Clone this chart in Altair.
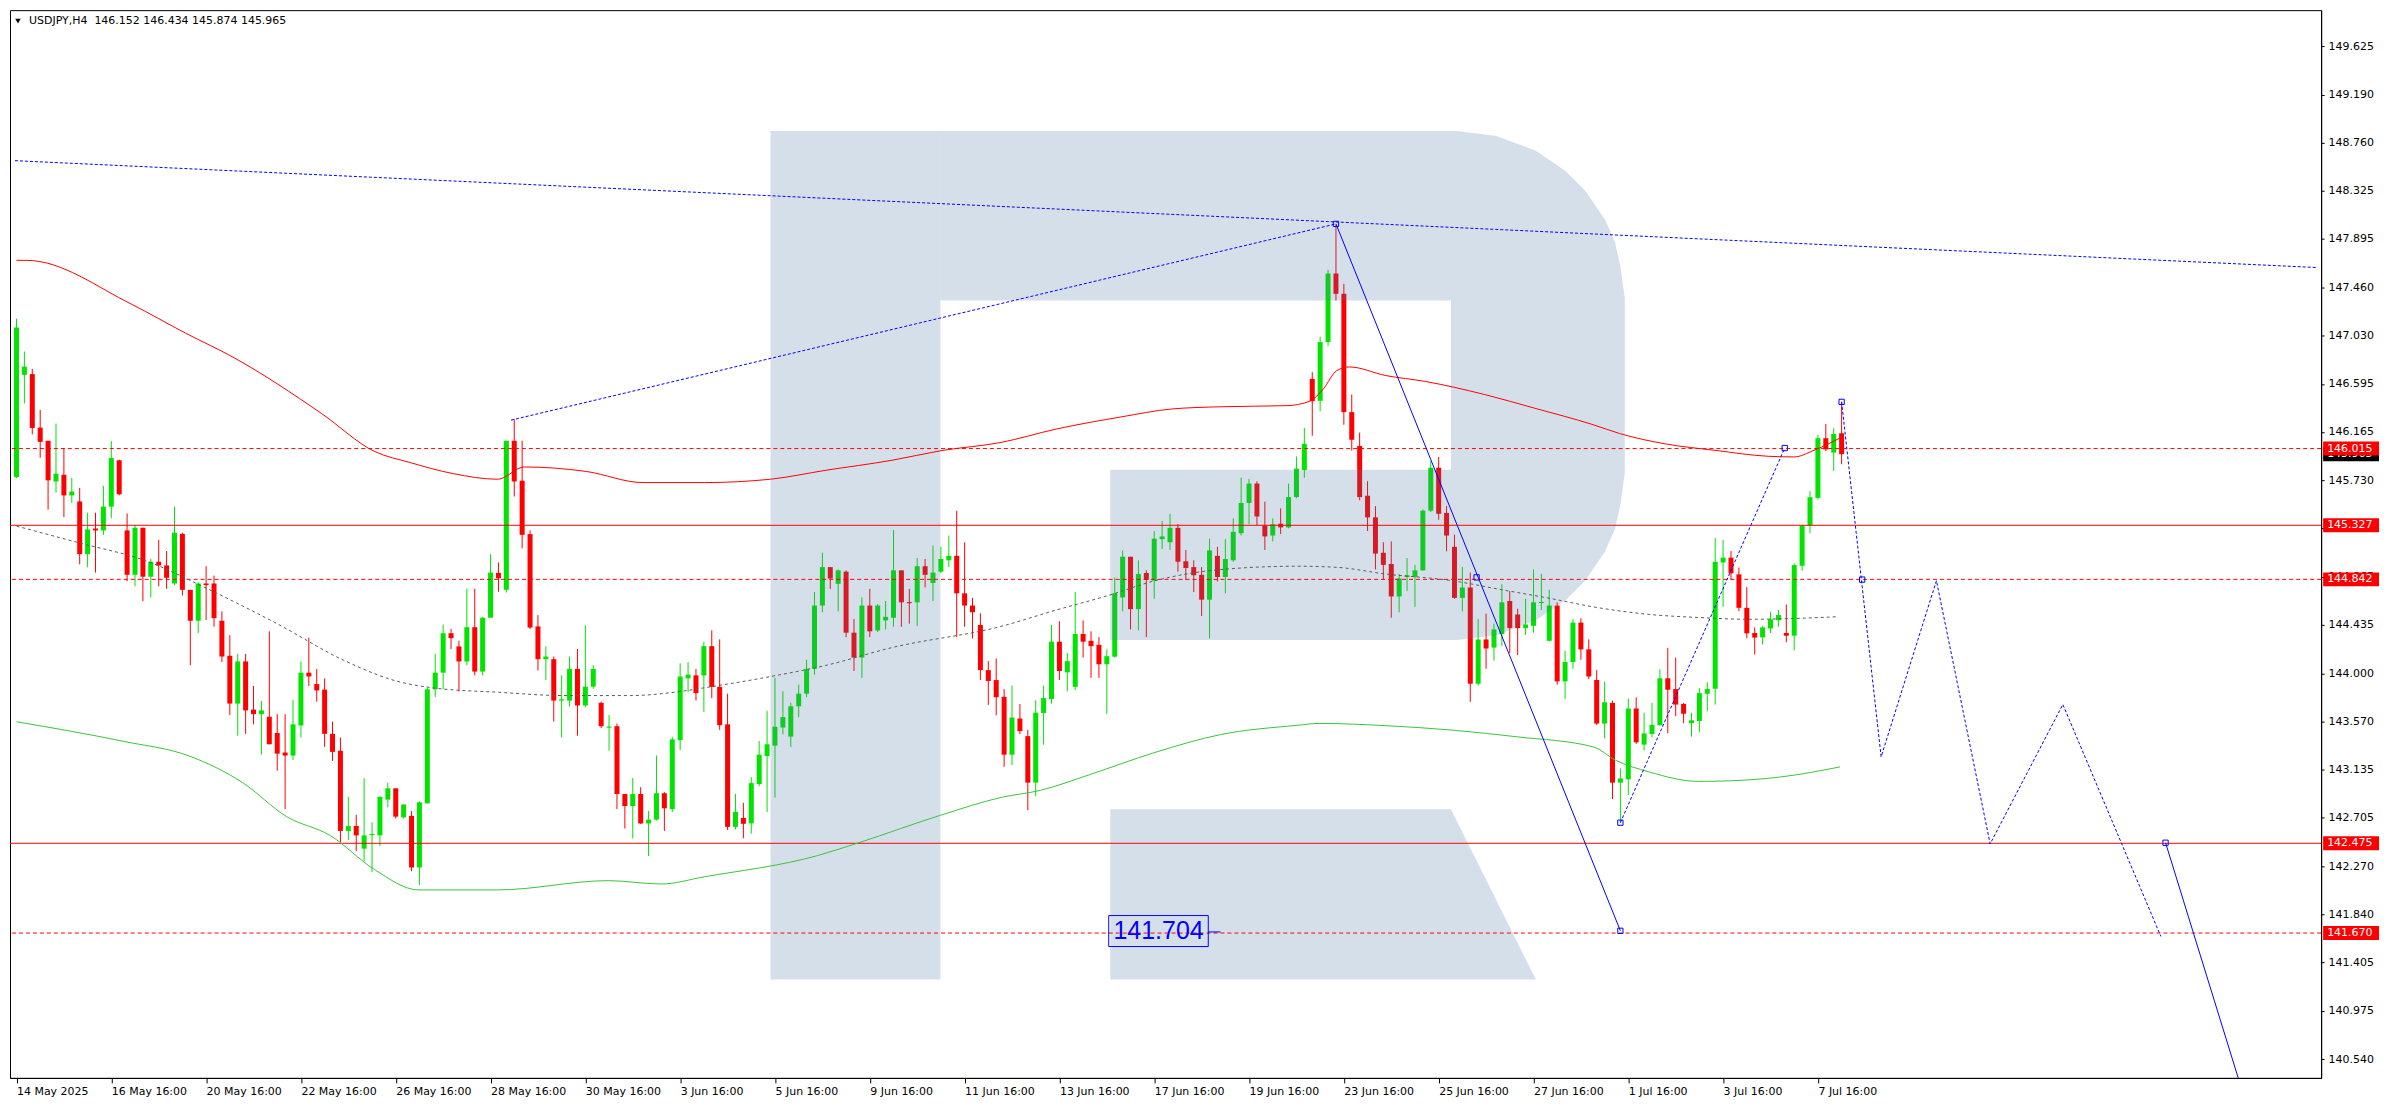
import altair as alt
import pandas as pd

# ---------------- data ----------------
opens = [145.76,146.676,146.683,146.203,146.085,145.72,145.78,145.595,145.541,145.068,
145.298,145.281,145.494,145.91,145.281,144.883,145.305,144.866,145.0,144.967,
144.805,145.25,144.748,144.471,144.805,144.805,144.471,144.157,143.728,144.106,
143.674,143.633,143.61,143.464,143.289,143.262,143.532,144.005,143.903,143.853,
143.457,143.305,142.586,142.63,142.427,142.548,142.546,142.867,142.968,142.708,
142.721,142.258,142.833,143.856,144.005,144.359,144.241,144.106,144.413,144.015,
144.498,144.9,144.748,146.085,145.727,145.248,144.42,144.126,144.126,143.755,
143.755,144.039,143.711,143.88,143.735,143.512,143.525,142.917,142.809,142.917,
142.653,142.687,142.924,142.782,143.4,143.954,143.981,143.98,144.243,143.878,
143.542,142.622,142.703,142.654,143.007,143.258,143.351,143.513,143.432,143.704,
143.817,144.04,144.607,144.952,144.802,144.911,144.364,144.141,144.607,144.384,
144.474,144.498,144.923,144.636,144.636,144.96,144.81,144.911,145.013,145.053,
144.717,144.607,144.433,144.028,143.939,143.789,143.27,143.594,143.436,143.019,
143.643,143.769,144.283,144.008,143.878,144.352,144.291,144.255,144.081,144.149,
144.68,145.045,144.575,144.899,144.83,145.203,145.175,145.304,145.004,144.952,
144.883,144.66,145.053,144.863,145.013,145.256,145.527,145.701,145.325,145.235,
145.341,145.308,145.58,145.823,146.64,146.443,146.97,147.585,147.403,146.342,
146.038,145.592,145.398,145.081,144.98,144.689,144.863,144.863,144.923,145.458,
145.843,145.438,145.134,144.676,144.769,143.906,144.303,144.23,144.352,144.648,
144.527,144.405,144.425,144.63,144.291,144.607,143.927,144.101,144.454,144.214,
143.94,143.549,143.734,143.019,143.049,143.684,143.36,143.455,143.534,143.955,
143.858,143.725,143.552,143.572,143.816,143.861,144.993,145.037,144.887,144.587,
144.361,144.322,144.402,144.475,144.361,144.337,144.964,145.323,145.573,146.108,
145.979,146.152]

highs = [147.18,146.886,146.73,146.362,146.085,146.24,146.02,145.754,145.663,145.44,
145.44,145.68,146.082,145.916,145.433,145.332,145.305,145.028,145.197,145.096,
145.494,145.261,144.748,144.815,144.96,144.876,144.555,144.342,144.174,144.174,
143.886,143.751,144.376,143.633,143.633,143.761,144.106,144.319,144.038,143.954,
143.566,143.424,142.89,142.73,143.059,142.664,142.90,143.018,142.968,142.823,
142.765,142.85,143.87,144.174,144.437,144.397,144.292,144.758,144.758,144.505,
145.068,144.994,146.085,146.278,146.085,145.281,144.522,144.241,144.15,143.981,
144.15,144.217,144.43,144.072,143.745,143.626,143.549,142.917,143.059,142.978,
142.765,143.262,142.934,143.43,144.089,144.1,144.038,144.283,144.385,144.304,
143.817,142.918,142.837,143.068,143.392,143.663,143.959,143.838,143.736,143.898,
144.121,144.729,145.081,144.952,144.931,144.923,144.486,144.68,144.757,144.62,
144.648,145.284,144.923,144.757,145.033,145.025,145.146,145.134,145.235,145.458,
145.175,144.676,144.538,144.109,144.133,143.858,143.89,143.724,143.493,143.757,
143.89,144.433,144.466,144.182,144.729,144.474,144.376,144.324,144.214,144.859,
145.102,145.045,145.013,144.923,145.276,145.365,145.43,145.337,145.106,145.013,
144.952,145.207,145.134,145.203,145.389,145.754,145.742,145.722,145.539,145.389,
145.478,145.701,145.944,146.20,146.70,147.018,147.618,148.023,147.492,146.5,
146.159,145.722,145.499,145.175,145.183,144.891,145.033,144.972,145.47,145.904,
145.94,145.499,145.243,144.952,144.903,144.486,144.534,144.445,144.798,144.737,
144.579,144.668,144.931,144.891,144.749,144.636,144.202,144.486,144.494,144.304,
144.028,143.925,143.755,143.146,143.772,143.784,143.646,143.734,144.034,144.228,
144.14,143.734,143.646,143.866,143.919,145.214,145.196,145.096,144.949,144.773,
144.411,144.425,144.552,144.567,144.617,144.984,145.332,145.632,146.138,146.235,
146.197,146.434]

lows = [145.75,146.42,146.143,145.933,145.467,145.62,145.40,145.528,144.977,144.95,
144.903,145.241,145.39,145.595,144.825,144.78,144.646,144.68,144.78,144.758,
144.79,144.697,144.072,144.36,144.477,144.417,144.10,143.626,143.44,143.457,
143.542,143.272,143.363,143.127,142.782,143.221,143.424,143.886,143.745,143.34,
143.214,142.485,142.505,142.404,142.31,142.215,142.451,142.799,142.697,142.697,
142.225,142.10,142.833,143.788,143.856,144.217,143.836,144.072,143.981,143.981,
144.498,144.731,144.724,145.585,145.12,144.396,144.025,143.937,143.566,143.424,
143.701,143.44,143.694,143.86,143.508,143.306,142.782,142.607,142.519,142.647,
142.36,142.68,142.586,142.755,143.312,143.83,143.755,143.655,143.777,143.493,
142.594,142.60,142.52,142.561,142.987,142.756,142.885,143.453,143.339,143.607,
143.785,143.987,144.547,144.757,144.555,144.324,144.02,143.959,144.324,144.37,
144.393,144.417,144.417,144.445,144.425,144.77,144.648,144.90,144.952,144.324,
144.417,144.312,143.939,143.716,143.623,143.161,143.177,143.453,142.772,142.898,
143.359,143.728,143.939,143.838,143.85,144.141,143.959,143.959,143.635,144.14,
144.555,144.393,144.385,144.324,144.668,145.114,145.106,144.911,144.838,144.729,
144.514,144.312,144.822,144.717,145.0,145.235,145.337,145.325,145.106,145.183,
145.248,145.30,145.57,145.754,146.13,146.35,146.937,147.342,146.228,145.997,
145.552,145.276,144.931,144.838,144.498,144.547,144.737,144.595,144.92,145.446,
145.377,145.094,144.668,144.555,143.744,143.89,144.04,144.113,144.243,144.182,
144.162,144.344,144.364,144.567,144.285,143.898,143.769,144.04,144.121,143.947,
143.537,143.416,142.872,142.66,142.91,143.366,143.307,143.425,143.53,143.463,
143.616,143.552,143.431,143.475,143.66,143.719,144.596,144.837,144.558,144.314,
144.169,144.258,144.361,144.417,144.278,144.205,144.92,145.255,145.558,145.993,
145.814,145.874]

closes = [147.10,146.75,146.20,146.075,145.73,145.79,145.595,145.63,145.068,145.29,
145.281,145.494,145.93,145.605,144.883,145.305,144.866,145.0,144.967,144.856,
145.261,144.748,144.471,144.805,144.79,144.494,144.15,143.728,144.106,143.667,
143.633,143.667,143.363,143.279,143.262,143.542,144.005,143.971,143.846,143.457,
143.295,142.586,142.63,142.546,142.546,142.556,142.89,142.968,142.714,142.823,
142.258,142.843,143.856,144.005,144.359,144.315,144.106,144.413,144.015,144.498,
144.903,144.852,146.085,145.72,145.241,144.41,144.126,144.15,143.755,143.767,
144.039,143.711,143.88,144.039,143.525,143.518,142.917,142.809,142.917,142.653,
142.687,142.924,142.789,143.407,143.971,143.988,143.822,144.243,143.878,143.534,
142.622,142.756,142.65,143.015,143.27,143.363,143.52,143.607,143.704,143.817,
144.04,144.607,144.952,144.85,144.923,144.364,144.141,144.607,144.376,144.607,
144.506,144.923,144.636,144.628,144.96,144.883,144.903,145.025,145.053,144.717,
144.607,144.547,144.028,143.931,143.785,143.27,143.603,143.481,143.019,143.647,
143.777,144.283,144.02,144.109,144.352,144.283,144.243,144.081,144.153,144.717,
145.045,144.575,144.891,144.838,145.207,145.227,145.304,145.0,144.944,144.879,
144.66,145.102,144.863,145.025,145.268,145.527,145.701,145.406,145.227,145.337,
145.308,145.58,145.835,146.058,146.44,146.97,147.585,147.403,146.342,146.094,
145.58,145.398,145.073,144.972,144.689,144.85,144.879,144.923,145.458,145.843,
145.43,145.235,144.676,144.769,143.906,144.303,144.222,144.393,144.636,144.405,
144.405,144.437,144.636,144.636,144.607,143.927,144.101,144.454,144.214,143.971,
143.549,143.74,143.019,143.057,143.684,143.381,143.46,143.537,143.955,143.852,
143.719,143.637,143.578,143.822,143.858,144.999,145.037,144.896,144.587,144.358,
144.32,144.411,144.484,144.522,144.337,144.97,145.323,145.579,146.108,146.008,
146.146,145.965]

# band lines (bar index, price)
upper_x = [0,1.3,14.6,21.4,27.4,38.6,45.3,49.8,55.3,60.9,64.3,72.1,79.3,87.1,95.4,102.4,110.8,117.1,124.6,131.6,
           139.9,146.2,152.4,160.8,163.7,165.4,167.1,168.7,173.3,178.3,185.8,192.1,199.6,202.9,208.7,215,221.7,225,227.5,231.2]
upper_y = [147.703,147.703,147.308,147.05,146.835,146.33,145.99,145.89,145.79,145.74,145.85,145.81,145.71,145.71,145.74,145.82,145.91,145.997,146.07,146.19,
           146.30,146.37,146.39,146.40,146.44,146.55,146.714,146.747,146.67,146.617,146.50,146.378,146.228,146.15,146.057,145.999,145.946,145.94,145.999,146.125]
mid_x = [0,7.9,16.3,24.7,33.1,41.4,48.1,52.6,60.9,69.3,77.7,83.3,87.1,95.4,102.4,110.8,124.6,131.6,138.3,144.1,
         152.4,162.1,167.1,173.3,181.7,187.9,194.2,199.6,206.6,212.9,219.2,230.6]
mid_y = [145.32,145.17,145.01,144.74,144.44,144.117,143.93,143.87,143.83,143.80,143.80,143.83,143.87,143.97,144.07,144.23,144.42,144.567,144.70,144.83,
         144.93,144.96,144.95,144.89,144.83,144.75,144.67,144.595,144.528,144.50,144.484,144.507]
lower_x = [0,13.5,21.9,28.6,34.2,39.7,45.3,50.9,60.9,74.9,81.6,87.1,101.4,106.6,117.1,124.6,129.6,135.8,144.1,152.4,
           162.1,164.9,173.3,181.7,189.9,199.6,202.4,206.6,212.9,217.1,223.3,230.8]
lower_y = [143.565,143.39,143.257,143.02,142.714,142.545,142.24,142.057,142.057,142.14,142.11,142.175,142.365,142.48,142.73,142.886,142.95,143.09,143.29,143.45,
           143.533,143.55,143.53,143.49,143.43,143.339,143.22,143.116,143.03,143.036,143.07,143.16]

solid_levels = [145.327, 142.475]
dashed_levels = [146.015, 144.842, 141.670]

# blue analysis lines: (segment, bar index, price)
dotted_seg = ["top", "top", "spike", "spike", "rise", "rise", "zig", "zig", "zig", "zig", "zig", "zig"]
dotted_x = [-0.19, 291.06, 62.6, 167, 203, 223.8, 231, 236, 243, 249.8, 259, 271.4]
dotted_y = [148.597, 147.639, 146.27, 148.03, 142.66, 146.02, 146.434, 143.25, 144.83, 142.47, 143.72, 141.64]
solid_seg = ["a", "a", "b", "b"]
solid_x = [167, 203, 272, 281.2]
solid_y = [148.03, 141.69, 142.48, 140.37]
marker_x = [167, 184.8, 203, 203, 223.8, 231, 233.6, 272]
marker_y = [148.03, 144.86, 141.69, 142.66, 146.02, 146.434, 144.84, 142.48]

tick_bars = list(range(0, 229, 12))
tick_labels = ["14 May 2025", "16 May 16:00", "20 May 16:00", "22 May 16:00", "26 May 16:00",
               "28 May 16:00", "30 May 16:00", "3 Jun 16:00", "5 Jun 16:00", "9 Jun 16:00",
               "11 Jun 16:00", "13 Jun 16:00", "17 Jun 16:00", "19 Jun 16:00", "23 Jun 16:00",
               "25 Jun 16:00", "27 Jun 16:00", "1 Jul 16:00", "3 Jul 16:00", "7 Jul 16:00"]
price_ticks = [149.625, 149.190, 148.760, 148.325, 147.895, 147.460, 147.030, 146.595, 146.165, 145.730,
               145.300, 144.865, 144.435, 144.000, 143.570, 143.135, 142.705, 142.270, 141.840, 141.405,
               140.975, 140.540]

label_prices = [146.015, 145.327, 144.842, 142.475, 141.670]
current_price = 145.965
header = "USDJPY,H4\u00a0\u00a0146.152 146.434 145.874 145.965"
target_label = "141.704"

# watermark "R" outline (bar index / price units)
wm_rect_x1 = [95.44, 116.94, 138.44]
wm_rect_x2 = [116.94, 181.56, 181.56]
wm_rect_y1 = [148.862, 148.862, 145.825]
wm_rect_y2 = [141.253, 147.343, 144.298]
wm_area_piece = ["bowl"] * 10 + ["leg"] * 3
wm_area_x = [181.56, 182.31, 187.31, 192.31, 196.06, 198.56, 201.06, 202.31, 203.0, 203.56,
             138.44, 181.56, 192.31]
wm_area_top = [148.862, 148.862, 148.819, 148.685, 148.505, 148.328, 148.067, 147.868, 147.65, 147.361,
               142.78, 142.78, 141.253]
wm_area_bot = [144.298, 144.298, 144.341, 144.475, 144.655, 144.832, 145.093, 145.292, 145.51, 145.799,
               141.253, 141.253, 141.253]

# ---------------- styling ----------------
W, H = 2316, 1070
X_DOM = [-0.19, 291.06]
Y_DOM = [140.371, 149.947]
GREEN = "#00e400"
RED = "#ff0000"
BLUE = "#0000ff"
WM = "#4d77a0"
FONT = "DejaVu Sans"

label_js = "[" + ",".join("'" + s + "'" for s in tick_labels) + "][round(datum.value/12)]"
x_axis = alt.Axis(values=tick_bars, labelExpr=label_js, title=None, grid=False,
                  domainColor="black", tickColor="black", tickSize=5, labelAlign="left",
                  labelColor="black", labelFont=FONT, labelFontSize=11, labelPadding=3,
                  labelFlush=False, labelOverlap=False, labelBound=False)
y_axis = alt.Axis(orient="right", values=price_ticks, format=".3f", title=None, grid=False,
                  domainColor="black", tickColor="black", tickSize=3, labelPadding=4,
                  labelColor="black", labelFont=FONT, labelFontSize=11, labelOverlap=False,
                  labelFlush=False, labelBound=False)
xs = alt.Scale(domain=X_DOM, nice=False, zero=False)
ys = alt.Scale(domain=Y_DOM, nice=False, zero=False)


def X(f):
    return alt.X(f + ":Q", scale=xs, axis=x_axis)


def Y(f):
    return alt.Y(f + ":Q", scale=ys, axis=y_axis)


rows = []
for k in range(len(opens)):
    o, h, l, c = opens[k], highs[k], lows[k], closes[k]
    lo_b, hi_b = min(o, c), max(o, c)
    if hi_b - lo_b < 0.01:
        hi_b = lo_b + 0.01
    rows.append(dict(i=k, h=h, l=l, blo=lo_b, bhi=hi_b, dir="up" if c >= o else "down"))
candles = pd.DataFrame(rows)
col = alt.Color("dir:N", scale=alt.Scale(domain=["up", "down"], range=[GREEN, RED]), legend=None)

wicks = alt.Chart(candles).mark_rule(strokeWidth=1).encode(x=X("i"), y=Y("l"), y2="h", color=col)
bodies = alt.Chart(candles).mark_bar(width=5).encode(x=X("i"), y=Y("blo"), y2="bhi", color=col)

wm_rects = pd.DataFrame(dict(x1=wm_rect_x1, x2=wm_rect_x2, y1=wm_rect_y1, y2=wm_rect_y2))
wm_areas = pd.DataFrame(dict(piece=wm_area_piece, x=wm_area_x, top=wm_area_top, bot=wm_area_bot))
wm1 = alt.Chart(wm_rects).mark_rect(color=WM, opacity=0.235).encode(x=X("x1"), x2="x2", y=Y("y1"), y2="y2")
wm2 = alt.Chart(wm_areas).mark_area(color=WM, opacity=0.235).encode(x=X("x"), y=Y("top"), y2="bot", detail="piece:N")

lev_s = alt.Chart(pd.DataFrame(dict(p=solid_levels))).mark_rule(color=RED, strokeWidth=1).encode(y=Y("p"))
lev_d = alt.Chart(pd.DataFrame(dict(p=dashed_levels))).mark_rule(color=RED, strokeWidth=1, strokeDash=[4, 3]).encode(y=Y("p"))

up_l = alt.Chart(pd.DataFrame(dict(x=upper_x, y=upper_y))).mark_line(
    color=RED, strokeWidth=1, interpolate="monotone").encode(x=X("x"), y=Y("y"))
mid_l = alt.Chart(pd.DataFrame(dict(x=mid_x, y=mid_y))).mark_line(
    color="#5a5a5a", strokeWidth=1, strokeDash=[3, 3], interpolate="monotone").encode(x=X("x"), y=Y("y"))
lo_l = alt.Chart(pd.DataFrame(dict(x=lower_x, y=lower_y))).mark_line(
    color="#3ac43a", strokeWidth=1, interpolate="monotone").encode(x=X("x"), y=Y("y"))

dot_l = alt.Chart(pd.DataFrame(dict(seg=dotted_seg, x=dotted_x, y=dotted_y))).mark_line(
    color=BLUE, strokeWidth=1, strokeDash=[3, 2]).encode(x=X("x"), y=Y("y"), detail="seg:N")
sol_l = alt.Chart(pd.DataFrame(dict(seg=solid_seg, x=solid_x, y=solid_y))).mark_line(
    color=BLUE, strokeWidth=1).encode(x=X("x"), y=Y("y"), detail="seg:N")
marks = alt.Chart(pd.DataFrame(dict(x=marker_x, y=marker_y))).mark_point(
    shape="square", filled=False, size=28, color=BLUE, strokeWidth=1, opacity=1).encode(x=X("x"), y=Y("y"))

# target label box "141.704"
tbox = alt.Chart(pd.DataFrame(dict(x1=[138.24], x2=[150.84], y1=[141.827], y2=[141.549]))).mark_rect(
    fillOpacity=0, stroke=BLUE, strokeWidth=1).encode(x=X("x1"), x2="x2", y=Y("y1"), y2="y2")
ttick = alt.Chart(pd.DataFrame(dict(x1=[150.84], x2=[152.4], y=[141.68]))).mark_rule(
    color=BLUE, strokeWidth=1).encode(x=X("x1"), x2="x2", y=Y("y"))
ttext = alt.Chart(pd.DataFrame(dict(x=[144.55], y=[141.685], t=[target_label]))).mark_text(
    font="Liberation Sans", fontSize=25, color=BLUE, align="center", baseline="middle").encode(
    x=X("x"), y=Y("y"), text="t:N")

# right-side price tags (the black current-price tag sits partly under the red 146.015 tag, as in the original)
cur_df = pd.DataFrame(dict(p=[current_price], t=["%.3f" % current_price]))
cur_box = alt.Chart(cur_df).mark_rule(color="black", strokeWidth=14, strokeCap="butt").encode(
    x=alt.value(W + 2), x2=alt.value(W + 58), y=Y("p"))
cur_txt = alt.Chart(cur_df).mark_text(color="white", font=FONT, fontSize=11, align="left", baseline="middle").encode(
    x=alt.value(W + 6), y=Y("p"), text="t:N")
tag_df = pd.DataFrame(dict(p=label_prices, t=["%.3f" % v for v in label_prices]))
tag_box = alt.Chart(tag_df).mark_rule(color=RED, strokeWidth=14, strokeCap="butt").encode(
    x=alt.value(W + 2), x2=alt.value(W + 58), y=Y("p"))
tag_txt = alt.Chart(tag_df).mark_text(color="white", font=FONT, fontSize=11, align="left", baseline="middle").encode(
    x=alt.value(W + 6), y=Y("p"), text="t:N")

# header
hdr_df = pd.DataFrame(dict(t=[header]))
hdr_tri = alt.Chart(hdr_df).mark_point(shape="triangle-down", filled=True, size=30, color="black", opacity=1).encode(
    x=alt.value(8), y=alt.value(11))
hdr_txt = alt.Chart(hdr_df).mark_text(font=FONT, fontSize=11, color="black", align="left", baseline="middle").encode(
    x=alt.value(19), y=alt.value(11), text="t:N")

chart = alt.layer(
    wicks, bodies, wm1, wm2, lev_s, lev_d, up_l, mid_l, lo_l, dot_l, sol_l, marks,
    tbox, ttick, ttext, cur_box, cur_txt, tag_box, tag_txt, hdr_tri, hdr_txt
).properties(
    width=W, height=H, padding={"left": 1, "top": 1, "right": 2, "bottom": 2}, background="white"
).configure_view(stroke="black", strokeWidth=1)

chart.save("out.html", embed_options={"renderer": "svg", "actions": False})
